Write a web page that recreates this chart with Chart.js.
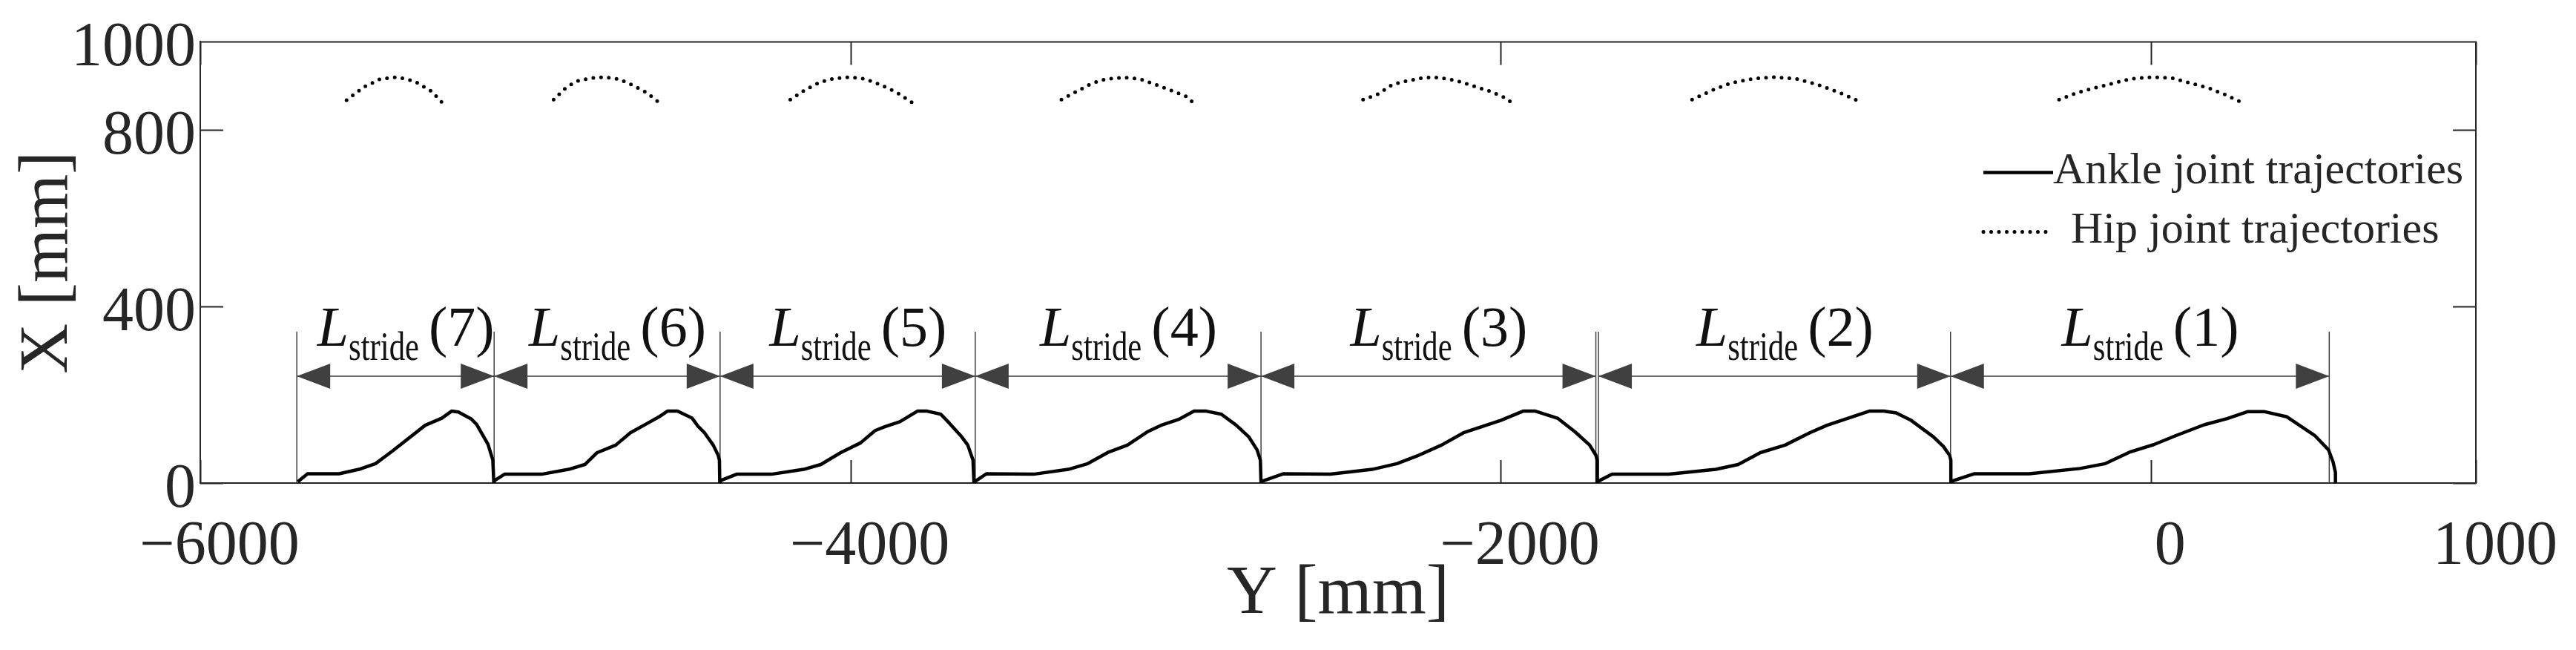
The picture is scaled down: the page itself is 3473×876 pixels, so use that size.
<!DOCTYPE html>
<html>
<head>
<meta charset="utf-8">
<script src="https://cdn.jsdelivr.net/npm/chart.js@4.4.1/dist/chart.umd.min.js"></script>
<style>
html,body{margin:0;padding:0;background:#ffffff;}
#wrap{width:3473px;height:876px;position:relative;}
</style>
</head>
<body>
<div id="wrap"><canvas id="c" width="3473" height="876"></canvas></div>
<script>
// ---------------- data ----------------
const xTickValues = [-6000, -4000, -2000, 0, 1000];
const yTickValues = [0, 400, 800, 1000];
const seriesNames = ['Ankle joint trajectories', 'Hip joint trajectories'];

const strideNumbers = [7, 6, 5, 4, 3, 2, 1];
const strideStart = [-5703, -5096, -4401, -3616, -2737, -1699, -616];
const strideEnd   = [-5096, -4401, -3616, -2737, -1707, -616, 549];
const strideArrowLevel = 242;   // X [mm] of the dimension arrows
const strideLineTop = 343;      // X [mm] top of the stride marker lines
const strideLabelLevel = 311;   // X [mm] baseline of the stride labels

const ankleX = [
  [-5700,-5670,-5573,-5512,-5461,-5410,-5308,-5257,-5227,-5206,-5166,-5150,-5115,-5100,-5097],
  [-5094,-5064,-4950,-4867,-4817,-4779,-4722,-4677,-4623,-4589,-4563,-4532,-4487,-4468,-4449,-4422,-4407,-4403,-4402],
  [-4398,-4350,-4243,-4144,-4091,-4030,-3969,-3924,-3893,-3848,-3794,-3764,-3722,-3696,-3658,-3639,-3623,-3620],
  [-3616,-3582,-3437,-3330,-3270,-3209,-3148,-3087,-3041,-2988,-2943,-2905,-2859,-2813,-2775,-2749,-2739,-2737],
  [-2734,-2669,-2524,-2395,-2319,-2258,-2182,-2114,-2000,-1931,-1893,-1825,-1771,-1726,-1707,-1703,-1703],
  [-1700,-1657,-1482,-1338,-1269,-1201,-1125,-1049,-996,-866,-821,-783,-737,-669,-638,-619,-615,-615],
  [-613,-544,-374,-218,-140,-62,9,79,164,235,299,348,419,504,547,561,568,568]
];
const ankleY = [
  [3,21,21,31,44,72,131,147,163,161,145,133,88,52,0],
  [6,20,20,31,42,69,86,114,136,150,163,163,147,128,114,86,63,52,0],
  [6,20,20,31,42,69,91,119,128,139,163,163,156,136,105,86,52,0],
  [4,21,20,31,44,69,86,116,132,145,163,163,156,131,105,75,52,0],
  [4,21,20,31,44,61,86,114,142,163,163,147,116,86,63,52,0],
  [4,20,20,31,42,69,86,114,131,163,163,159,142,105,83,63,52,0],
  [4,21,21,33,44,71,87,108,132,146,162,162,150,108,75,47,24,0]
];

const hipX = [
  [-5550,-5498,-5446,-5394,-5341,-5289,-5258],
  [-4913,-4880,-4846,-4800,-4756,-4710,-4665,-4625,-4590],
  [-4185,-4140,-4095,-4050,-4003,-3955,-3905,-3857,-3811],
  [-3351,-3303,-3257,-3212,-3158,-3110,-3063,-3017,-2969,-2947],
  [-2423,-2379,-2331,-2285,-2234,-2190,-2136,-2088,-2037,-1994,-1969],
  [-1411,-1350,-1290,-1220,-1154,-1090,-1020,-955,-890],
  [-282,-230,-176,-62,4,65,179,230,282]
];
const hipY = [
  [868,897,916,920,911,888,864],
  [869,893,910,918,920,915,900,884,863],
  [869,891,908,917,920,916,902,885,863],
  [869,888,906,916,919,916,904,891,877,863],
  [869,881,904,912,919,919,912,901,889,876,864],
  [869,890,907,917,920,916,902,884,863],
  [869,884,895,916,920,918,895,880,862]
];

// ---------------- build datasets ----------------
const toPts = (xs, ys) => xs.map((x, i) => ({x: x, y: ys[i]}));
const ankleData = ankleX.flatMap((xs, k) => toPts(xs, ankleY[k]));
const hipData = hipX.flatMap((xs, k) => [...toPts(xs, hipY[k]), {x: xs[xs.length - 1], y: null}]);
const boundaries = [...new Set([...strideStart, ...strideEnd])].sort((a, b) => a - b);
const markerData = boundaries.flatMap(b => [{x: b, y: 0}, {x: b, y: strideLineTop}, {x: b, y: null}]);
const shaftData = strideStart.flatMap((s, i) => [
  {x: s, y: strideArrowLevel}, {x: strideEnd[i], y: strideArrowLevel}, {x: strideEnd[i], y: null}
]);

const SERIF = "'Liberation Serif', 'Times New Roman', serif";
const INK = '#262626';
const GRAY = '#404040';

// ---------------- plugins ----------------
const framePlugin = {
  id: 'frameTicks',
  afterDraw(chart) {
    const {ctx, chartArea, scales} = chart;
    const {left, right, top, bottom} = chartArea;
    ctx.save();
    ctx.strokeStyle = INK;
    ctx.lineWidth = 2;
    ctx.beginPath();
    ctx.moveTo(left, top); ctx.lineTo(right, top); ctx.lineTo(right, bottom);
    const L = 31;
    scales.x.ticks.forEach(t => {
      const p = Math.round(scales.x.getPixelForValue(t.value)) + 0.5;
      ctx.moveTo(p, bottom); ctx.lineTo(p, bottom - L);
      ctx.moveTo(p, top); ctx.lineTo(p, top + L);
    });
    scales.y.ticks.forEach(t => {
      const p = Math.round(scales.y.getPixelForValue(t.value)) + 0.5;
      ctx.moveTo(left, p); ctx.lineTo(left + L, p);
      ctx.moveTo(right, p); ctx.lineTo(right - L, p);
    });
    ctx.stroke();
    ctx.restore();
  }
};

const stridePlugin = {
  id: 'strideAnnotations',
  afterDatasetsDraw(chart) {
    const {ctx, scales: {x, y}} = chart;
    const ay = y.getPixelForValue(strideArrowLevel);
    const ly = y.getPixelForValue(strideLabelLevel);
    const headLen = 45, headHalf = 17;
    ctx.save();
    ctx.fillStyle = GRAY;
    strideStart.forEach((s, i) => {
      const sx = x.getPixelForValue(s);
      const ex = x.getPixelForValue(strideEnd[i]);
      ctx.beginPath();
      ctx.moveTo(sx, ay); ctx.lineTo(sx + headLen, ay - headHalf); ctx.lineTo(sx + headLen, ay + headHalf); ctx.closePath();
      ctx.fill();
      ctx.beginPath();
      ctx.moveTo(ex, ay); ctx.lineTo(ex - headLen, ay - headHalf); ctx.lineTo(ex - headLen, ay + headHalf); ctx.closePath();
      ctx.fill();
    });
    ctx.fillStyle = '#111111';
    ctx.textBaseline = 'alphabetic';
    ctx.textAlign = 'left';
    const fL = 'italic 76px ' + SERIF;
    const fS = '54px ' + SERIF;
    const fN = '76px ' + SERIF;
    strideNumbers.forEach((n, i) => {
      const sx = x.getPixelForValue(strideStart[i]);
      const ex = x.getPixelForValue(strideEnd[i]);
      const cx = (sx + ex) / 2 + 14;
      ctx.font = fL; const wL = ctx.measureText('L').width;
      ctx.font = fS; const wS = Math.min(ctx.measureText('stride').width, 95);
      const gap = 13;
      const numTxt = '(' + n + ')';
      ctx.font = fN; const wN = ctx.measureText(numTxt).width;
      const total = wL + wS + gap + wN;
      let px = cx - total / 2;
      ctx.font = fL; ctx.fillText('L', px, ly); px += wL;
      ctx.font = fS; ctx.fillText('stride', px, ly + 19, 95); px += wS + gap;
      ctx.font = fN; ctx.fillText(numTxt, px, ly);
    });
    ctx.restore();
  }
};

const legendPlugin = {
  id: 'insetLegend',
  afterDraw(chart) {
    const {ctx, chartArea} = chart;
    const ds = chart.data.datasets;
    const rows = [
      {d: ds[0], lineY: chartArea.top + 176, textX: chartArea.right - 570, baseY: chartArea.top + 191},
      {d: ds[1], lineY: chartArea.top + 256, textX: chartArea.right - 546, baseY: chartArea.top + 271}
    ];
    const x0 = chartArea.right - 664, x1 = chartArea.right - 570;
    ctx.save();
    rows.forEach(r => {
      ctx.beginPath();
      ctx.strokeStyle = r.d.borderColor;
      ctx.lineWidth = r.d.borderWidth;
      ctx.lineCap = r.d.borderCapStyle || 'butt';
      ctx.setLineDash(r.d.borderDash || []);
      ctx.moveTo(x0, r.lineY); ctx.lineTo(x1, r.lineY);
      ctx.stroke();
      ctx.setLineDash([]);
      ctx.fillStyle = INK;
      ctx.font = '60px ' + SERIF;
      ctx.textBaseline = 'alphabetic';
      ctx.textAlign = 'left';
      ctx.fillText(r.d.label, r.textX, r.baseY);
    });
    ctx.restore();
  }
};

// ---------------- chart ----------------
Chart.defaults.font.family = SERIF;
Chart.defaults.color = INK;

new Chart(document.getElementById('c'), {
  type: 'line',
  data: {
    datasets: [
      {label: seriesNames[0], data: ankleData, borderColor: '#000000', borderWidth: 4.5,
       pointRadius: 0, tension: 0, fill: false, spanGaps: false, borderCapStyle: 'butt', borderJoinStyle: 'round'},
      {label: seriesNames[1], data: hipData, borderColor: '#000000', borderWidth: 5,
       borderDash: [0, 10.5], borderCapStyle: 'round', pointRadius: 0, tension: 0, fill: false, spanGaps: false},
      {label: 'stride markers', data: markerData, borderColor: GRAY, borderWidth: 1.5,
       pointRadius: 0, tension: 0, fill: false, spanGaps: false},
      {label: 'stride arrows', data: shaftData, borderColor: GRAY, borderWidth: 1.5,
       pointRadius: 0, tension: 0, fill: false, spanGaps: false}
    ]
  },
  options: {
    responsive: false,
    animation: false,
    devicePixelRatio: 1,
    layout: {padding: {top: 56, right: 135, left: 0, bottom: 0}},
    plugins: {legend: {display: false}, tooltip: {enabled: false}},
    scales: {
      x: {
        type: 'linear', min: -6000, max: 1000,
        afterBuildTicks: s => { s.ticks = xTickValues.map(v => ({value: v})); },
        afterFit: s => { s.height = 225; },
        grid: {display: false, drawTicks: false},
        border: {display: true, color: INK, width: 2},
        ticks: {
          padding: 37, labelOffset: 26, maxRotation: 0, autoSkip: false, color: INK,
          font: {size: 84, family: SERIF},
          callback: v => String(v).replace('-', '\u2212')
        },
        title: {display: true, text: 'Y [mm]', color: INK, font: {size: 94, family: SERIF},
                padding: {top: 0, bottom: 18}}
      },
      y: {
        type: 'linear', min: 0, max: 1000,
        afterBuildTicks: s => { s.ticks = yTickValues.map(v => ({value: v})); },
        afterFit: s => { s.width = 270; },
        grid: {display: false, drawTicks: false},
        border: {display: true, color: INK, width: 2},
        ticks: {
          padding: 6, labelOffset: 10, autoSkip: false, color: INK,
          font: {size: 84, family: SERIF},
          callback: v => String(v)
        },
        title: {display: true, text: 'X [mm]', color: INK, font: {size: 94, family: SERIF},
                padding: {top: 9, bottom: 0}}
      }
    }
  },
  plugins: [stridePlugin, framePlugin, legendPlugin]
});
</script>
</body>
</html>
